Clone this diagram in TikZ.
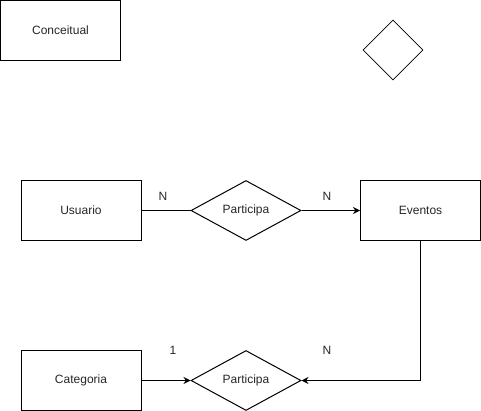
\documentclass[tikz,border=0pt]{standalone}
\usepackage{fontspec}
\setmainfont{Liberation Sans}
\usetikzlibrary{positioning,shapes.geometric,arrows.meta}

\begin{document}
\begin{tikzpicture}[node distance=2cm,on grid,auto,
   every node/.style={font=\fontsize{12}{14}\selectfont, text=black!85},
   entidade/.style={rectangle, draw, line width=1pt, minimum width=120pt, minimum height=60pt},
   relacao/.style={diamond, draw, line width=1pt, aspect=1.8, inner sep=0pt, minimum width=110pt, minimum height=60pt},
   liga/.style={line width=1pt},
   seta/.style={line width=1pt, -{Stealth[length=7pt,width=7pt]}}]
   \useasboundingbox (0,0) rectangle (481pt,-411pt);

   \node[entidade] (conceitual) at (60.5pt,-30.5pt) {Conceitual};
   \node[diamond, draw, line width=0.8pt, inner sep=0pt, minimum size=60pt] (losango) at (393pt,-50pt) {};

   \node[entidade] (usuario) at (81pt,-210.5pt) {Usuario};
   \node[relacao]  (participa1) [right=165pt of usuario]     {Participa};
   \node[entidade] (eventos)    [right=174.5pt of participa1] {Eventos};
   \node[entidade] (categoria)  [below=170pt of usuario]      {Categoria};
   \node[relacao]  (participa2) [right=165pt of categoria]    {Participa};

   % cardinalidades
   \node (card1) at (163pt,-196pt) {N};
   \node (card2) at (327pt,-196pt) {N};
   \node (card3) at (173pt,-350pt) {1};
   \node (card4) at (327pt,-350pt) {N};

   \draw[liga] (usuario) -- (participa1);
   \draw[seta] (participa1) -- (eventos);
   \draw[seta] (categoria) -- (participa2);
   \draw[seta] (eventos.south) |- (participa2.east);
\end{tikzpicture}
\end{document}
